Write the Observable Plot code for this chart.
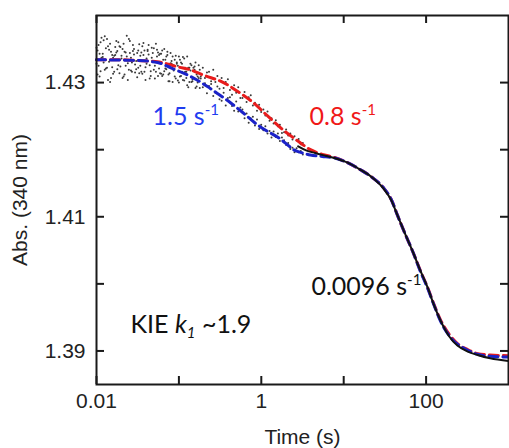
<!DOCTYPE html>
<html><head><meta charset="utf-8">
<script src="https://cdn.jsdelivr.net/npm/d3@7"></script>
<script src="https://cdn.jsdelivr.net/npm/@observablehq/plot@0.6"></script>
<style>html,body{margin:0;padding:0;background:#fff;} svg{display:block}</style>
</head><body><div id="chart"></div>
<script>
// ---- axes ----
const xTicks = [0.01, 0.1, 1, 10, 100];
const xLabels = [0.01, 1, 100];
const yTicks = [1.39, 1.40, 1.41, 1.42, 1.43];
const yLabels = [1.39, 1.41, 1.43];

// ---- raw data (noisy early points, two traces) ----
const dotTime = [
  0.0100, 0.0106, 0.0112, 0.0119, 0.0126, 0.0134, 0.0142, 0.0150, 0.0159, 0.0169,
  0.0179, 0.0190, 0.0201, 0.0213, 0.0226, 0.0240, 0.0254, 0.0269, 0.0285, 0.0303,
  0.0321, 0.0340, 0.0360, 0.0382, 0.0405, 0.0429, 0.0455, 0.0482, 0.0511, 0.0542,
  0.0574, 0.0609, 0.0645, 0.0684, 0.0725, 0.0769, 0.0815, 0.0864, 0.0916, 0.0971,
  0.103, 0.109, 0.116, 0.123, 0.130, 0.138, 0.146, 0.155, 0.164, 0.174,
  0.184, 0.195, 0.207, 0.219, 0.232, 0.246, 0.261, 0.277, 0.293, 0.311,
  0.330, 0.349, 0.370, 0.393, 0.416, 0.441, 0.468, 0.496, 0.525, 0.557,
  0.590, 0.626, 0.663, 0.703, 0.745, 0.790, 0.837, 0.887, 0.941, 0.997,
  1.06, 1.12, 1.19, 1.26, 1.33, 1.41, 1.50, 1.59, 1.68, 1.78,
  1.89, 2.00, 2.12, 2.25, 2.39, 2.53, 2.68, 2.84, 3.01, 3.19
];
const dotsRedTrace = [
  1.4352, 1.4325, 1.4360, 1.4338, 1.4319, 1.4365, 1.4331, 1.4346, 1.4313, 1.4341,
  1.4320, 1.4354, 1.4336, 1.4309, 1.4345, 1.4329, 1.4362, 1.4316, 1.4342, 1.4332,
  1.4348, 1.4325, 1.4354, 1.4316, 1.4336, 1.4342, 1.4310, 1.4344, 1.4325, 1.4349,
  1.4321, 1.4343, 1.4312, 1.4334, 1.4346, 1.4314, 1.4328, 1.4318, 1.4340, 1.4303,
  1.4334, 1.4316, 1.4336, 1.4307, 1.4322, 1.4328, 1.4302, 1.4324, 1.4312, 1.4326,
  1.4306, 1.4322, 1.4299, 1.4315, 1.4316, 1.4298, 1.4319, 1.4301, 1.4310, 1.4291,
  1.4307, 1.4292, 1.4301, 1.4305, 1.4289, 1.4282, 1.4296, 1.4285, 1.4293, 1.4277,
  1.4277, 1.4286, 1.4271, 1.4278, 1.4281, 1.4266, 1.4270, 1.4258, 1.4267, 1.4256,
  1.4260, 1.4251, 1.4257, 1.4243, 1.4247, 1.4239, 1.4244, 1.4235, 1.4237, 1.4225,
  1.4226, 1.4230, 1.4221, 1.4224, 1.4215, 1.4220, 1.4214, 1.4216, 1.4208, 1.4210
];
const dotsBlueTrace = [
  1.4328, 1.4356, 1.4317, 1.4343, 1.4369, 1.4322, 1.4349, 1.4307, 1.4337, 1.4353,
  1.4347, 1.4314, 1.4340, 1.4358, 1.4325, 1.4304, 1.4344, 1.4330, 1.4350, 1.4320,
  1.4322, 1.4340, 1.4313, 1.4348, 1.4328, 1.4356, 1.4317, 1.4332, 1.4306, 1.4339,
  1.4341, 1.4313, 1.4334, 1.4321, 1.4341, 1.4302, 1.4332, 1.4326, 1.4306, 1.4325,
  1.4309, 1.4328, 1.4303, 1.4316, 1.4293, 1.4318, 1.4305, 1.4319, 1.4294, 1.4307,
  1.4309, 1.4293, 1.4307, 1.4284, 1.4295, 1.4302, 1.4280, 1.4285, 1.4294, 1.4275,
  1.4273, 1.4285, 1.4266, 1.4277, 1.4278, 1.4265, 1.4258, 1.4272, 1.4257, 1.4263,
  1.4260, 1.4247, 1.4254, 1.4240, 1.4247, 1.4249, 1.4236, 1.4245, 1.4231, 1.4237,
  1.4229, 1.4235, 1.4224, 1.4228, 1.4218, 1.4227, 1.4219, 1.4224, 1.4213, 1.4218,
  1.4214, 1.4207, 1.4210, 1.4201, 1.4203, 1.4196, 1.4202, 1.4196, 1.4198, 1.4193
];
// second shot (repeat), early times only
const dotTime2 = [
  0.0103, 0.0109, 0.0115, 0.0122, 0.0130, 0.0138, 0.0146, 0.0155, 0.0164, 0.0174,
  0.0184, 0.0195, 0.0207, 0.0219, 0.0233, 0.0247, 0.0262, 0.0277, 0.0294, 0.0312,
  0.0330, 0.0350, 0.0371, 0.0393, 0.0417, 0.0442, 0.0468, 0.0496, 0.0526, 0.0558,
  0.0591, 0.0627, 0.0664, 0.0704, 0.0747, 0.0792, 0.0839, 0.0890, 0.0943, 0.100,
  0.106, 0.112, 0.119, 0.126, 0.134, 0.142, 0.150, 0.159, 0.169, 0.179
];
const dotsRedTrace2 = [
  1.4312, 1.4343, 1.4367, 1.4330, 1.4351, 1.4304, 1.4358, 1.4323, 1.4340, 1.4362,
  1.4326, 1.4353, 1.4307, 1.4346, 1.4370, 1.4319, 1.4337, 1.4356, 1.4315, 1.4344,
  1.4357, 1.4316, 1.4341, 1.4304, 1.4347, 1.4326, 1.4352, 1.4319, 1.4358, 1.4310,
  1.4343, 1.4310, 1.4350, 1.4320, 1.4312, 1.4344, 1.4301, 1.4334, 1.4328, 1.4339,
  1.4310, 1.4338, 1.4316, 1.4339, 1.4301, 1.4326, 1.4307, 1.4330, 1.4300, 1.4319
];
const dotsBlueTrace2 = [
  1.4348, 1.4309, 1.4337, 1.4363, 1.4321, 1.4354, 1.4301, 1.4341, 1.4316, 1.4345,
  1.4360, 1.4324, 1.4350, 1.4312, 1.4339, 1.4365, 1.4318, 1.4347, 1.4327, 1.4308,
  1.4314, 1.4345, 1.4359, 1.4323, 1.4349, 1.4306, 1.4337, 1.4351, 1.4316, 1.4345,
  1.4314, 1.4348, 1.4317, 1.4339, 1.4302, 1.4329, 1.4339, 1.4309, 1.4330, 1.4300,
  1.4330, 1.4304, 1.4322, 1.4296, 1.4322, 1.4301, 1.4322, 1.4292, 1.4309, 1.4292
];

// ---- smooth data trace (later times) ----
const lineTime = [2.8, 3.5, 4.5, 6, 7.5, 11, 16, 22, 30, 38, 45, 55, 70, 85, 104, 125, 150, 190, 240, 320, 421, 600, 1000];
const lineAbs  = [1.4205, 1.4199, 1.4195, 1.4191, 1.4188, 1.4181, 1.4170, 1.4159, 1.4143, 1.4124, 1.4102, 1.4076, 1.4046, 1.4020, 1.3995, 1.3968, 1.3945, 1.3922, 1.3908, 1.3899, 1.3894, 1.3889, 1.3885];

// ---- fits ----
const redFitTime = [0.01, 0.02, 0.03, 0.055, 0.1, 0.138, 0.2, 0.348, 0.5, 0.8, 1.2, 1.86, 2.7, 3.95, 5.5, 7.5, 11, 16, 22, 30, 38, 45, 55, 70, 85, 104, 125, 150, 190, 240, 320, 421, 600, 1000];
const redFitAbs  = [1.4334, 1.4334, 1.4333, 1.4331, 1.4323, 1.4319, 1.4311, 1.4300, 1.4288, 1.4270, 1.4250, 1.4229, 1.4214, 1.4200, 1.4193, 1.4189, 1.4181, 1.4170, 1.4159, 1.4144, 1.4125, 1.4102, 1.4076, 1.4046, 1.4020, 1.3995, 1.3969, 1.3946, 1.3925, 1.3911, 1.3902, 1.3896, 1.3894, 1.3893];
const blueFitTime = [0.01, 0.03, 0.055, 0.08, 0.114, 0.16, 0.222, 0.3, 0.423, 0.6, 0.9, 1.2, 1.57, 2, 2.46, 3.2, 3.95, 5.5, 7.5, 11, 16, 22, 30, 38, 45, 55, 70, 85, 104, 125, 150, 190, 240, 320, 421, 600, 1000];
const blueFitAbs  = [1.4334, 1.4333, 1.4330, 1.4322, 1.4314, 1.4305, 1.4294, 1.4283, 1.4270, 1.4255, 1.4237, 1.4227, 1.4219, 1.4209, 1.4200, 1.4195, 1.4192, 1.4190, 1.4188, 1.4181, 1.4170, 1.4159, 1.4144, 1.4125, 1.4102, 1.4076, 1.4046, 1.4019, 1.3994, 1.3968, 1.3944, 1.3923, 1.3910, 1.3901, 1.3895, 1.3892, 1.3891];

// ---- annotations ----
const noteBase = ["1.5 s", "0.8 s", "0.0096 s", "KIE "];
const noteItalic = ["", "", "", "k"];
const noteSub = ["", "", "", "1"];
const noteTail = ["", "", "", " ~1.9"];
const noteSup = ["-1", "-1", "-1", ""];
const noteTime = [0.0478, 3.85, 4.06, 0.0259];
const noteAbs = [1.4249, 1.4249, 1.3995, 1.3938];
const noteColor = ["#1f3cf0", "#f01818", "#111111", "#111111"];

const dots = [];
const n1 = Math.min(dotTime.length, dotsRedTrace.length, dotsBlueTrace.length);
for (let i = 0; i < n1; i++) {
  dots.push({t: dotTime[i], v: dotsRedTrace[i]});
  dots.push({t: dotTime[i], v: dotsBlueTrace[i]});
}
const n2 = Math.min(dotTime2.length, dotsRedTrace2.length, dotsBlueTrace2.length);
for (let i = 0; i < n2; i++) {
  dots.push({t: dotTime2[i], v: dotsRedTrace2[i]});
  dots.push({t: dotTime2[i], v: dotsBlueTrace2[i]});
}
const redFit = redFitTime.map((t, i) => ({t, v: redFitAbs[i]}));
const blueFit = blueFitTime.map((t, i) => ({t, v: blueFitAbs[i]}));
const dataLine = lineTime.map((t, i) => ({t, v: lineAbs[i]}));
const notes = noteBase.map((b, i) => ({t: noteTime[i], v: noteAbs[i], b, c: noteColor[i]}));

const W = 509, H = 448, ML = 96, MR = 1, MT = 15, MB = 64;
const TK = 8; // inward tick length
const frameW = W - ML - MR, frameH = H - MT - MB;
const tickStroke = {stroke: "#1a1a1a", strokeWidth: 2};

const chart = Plot.plot({
  width: W,
  height: H,
  marginLeft: ML,
  marginRight: MR,
  marginTop: MT,
  marginBottom: MB,
  x: {type: "log", domain: [0.01, 1000]},
  y: {domain: [1.385, 1.44]},
  style: {fontFamily: "'Liberation Sans', Arial, sans-serif", fontSize: "21px", color: "#222", background: "#fff", overflow: "visible"},
  marks: [
    Plot.dot(dots, {x: "t", y: "v", r: 1, fill: "#3a3a3a", stroke: null}),
    Plot.line(redFit, {x: "t", y: "v", stroke: "#e81c1c", strokeWidth: 3, strokeDasharray: "9,5", curve: "monotone-x"}),
    Plot.line(blueFit, {x: "t", y: "v", stroke: "#1b22c8", strokeWidth: 3, strokeDasharray: "9,5", curve: "monotone-x"}),
    Plot.line(dataLine, {x: "t", y: "v", stroke: "#111", strokeWidth: 2, curve: "monotone-x"}),
    Plot.frame({stroke: "#1a1a1a", strokeWidth: 2}),
    // inward ticks on all four sides
    Plot.tickX(xTicks, {x: d => d, insetTop: frameH - TK, ...tickStroke}),
    Plot.tickX(xTicks, {x: d => d, insetBottom: frameH - TK, ...tickStroke}),
    Plot.tickY(yTicks, {y: d => d, insetRight: frameW - TK, ...tickStroke}),
    Plot.tickY(yTicks, {y: d => d, insetLeft: frameW - TK, ...tickStroke}),
    Plot.axisX({ticks: xLabels, tickSize: 0, tickPadding: 9, tickFormat: d => String(d), label: "Time (s)", labelAnchor: "center", labelArrow: "none", labelOffset: 59, fill: "#222"}),
    Plot.axisY({ticks: yLabels, tickSize: 0, tickPadding: 11, tickFormat: d => d.toFixed(2), label: "Abs. (340 nm)", labelAnchor: "center", labelArrow: "none", labelOffset: 84, fill: "#222"}),
    Plot.text(notes, {x: "t", y: "v", text: "b", fill: "c", textAnchor: "start", lineAnchor: "middle", fontSize: 25, fontFamily: "Lato, 'Open Sans', sans-serif"})
  ]
});

// rich text (superscripts / subscripts) for annotations
const ns = "http://www.w3.org/2000/svg";
chart.querySelectorAll('g[aria-label="text"] text').forEach((el, i) => {
  if (i >= noteBase.length) return;
  el.textContent = "";
  const add = (str, attrs) => {
    const ts = document.createElementNS(ns, "tspan");
    ts.textContent = str;
    for (const k in attrs) ts.setAttribute(k, attrs[k]);
    el.appendChild(ts);
  };
  add(noteBase[i], {});
  if (noteItalic[i]) add(noteItalic[i], {"font-style": "italic"});
  if (noteSub[i]) add(noteSub[i], {"font-style": "italic", "font-size": "15px", dy: "5"});
  if (noteTail[i]) add(noteTail[i], {dy: "-5"});
  if (noteSup[i]) add(noteSup[i], {"font-size": "15px", dy: "-10"});
});

document.getElementById("chart").appendChild(chart);
</script></body></html>
